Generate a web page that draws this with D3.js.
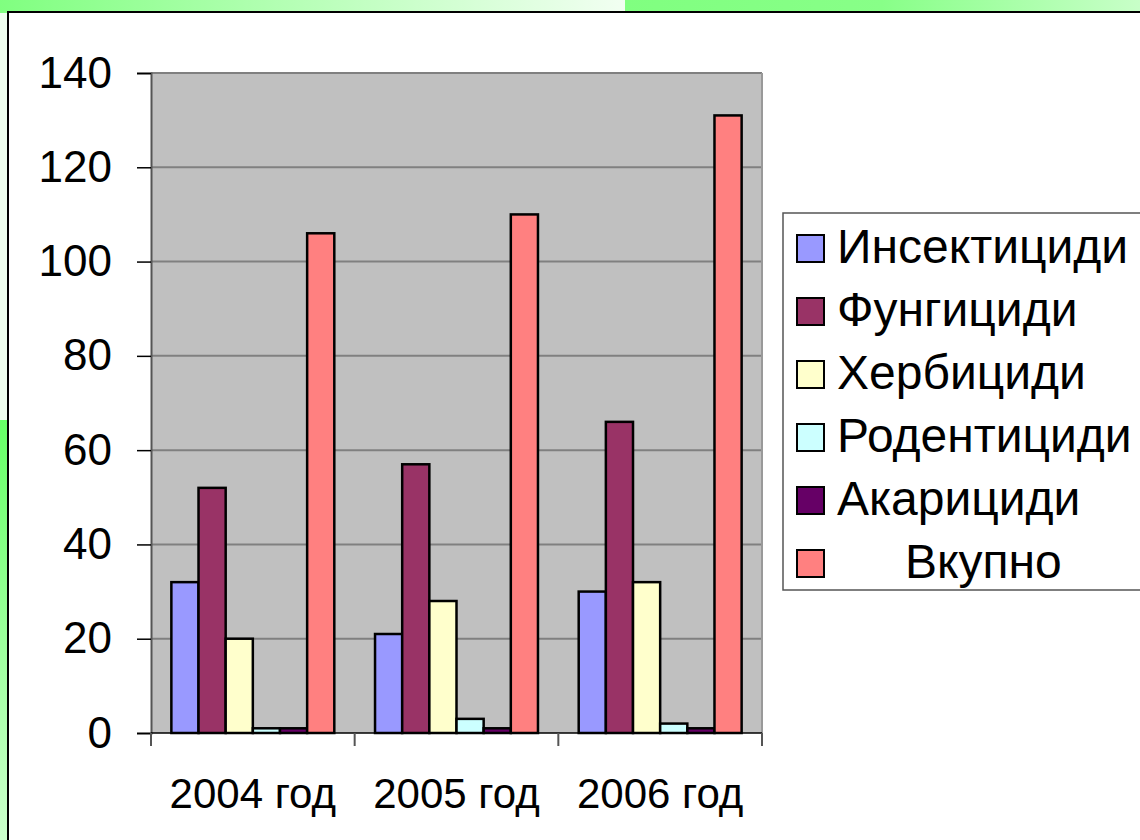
<!DOCTYPE html>
<html><head><meta charset="utf-8">
<script src="https://cdn.jsdelivr.net/npm/d3@7"></script>
<style>html,body{margin:0;padding:0;background:#fff;}svg{display:block;}</style>
</head><body>
<script>
const categories = ["2004 год", "2005 год", "2006 год"];
const seriesNames = ["Инсектициди", "Фунгициди", "Хербициди", "Родентициди", "Акарициди", "Вкупно"];
const insecticides = [32, 21, 30];
const fungicides = [52, 57, 66];
const herbicides = [20, 28, 32];
const rodenticides = [1, 3, 2];
const acaricides = [1, 1, 1];
const total = [106, 110, 131];
const yTicks = [0, 20, 40, 60, 80, 100, 120, 140];
const colors = ["#9999FF", "#993366", "#FFFFCC", "#CCFFFF", "#660066", "#FF8080"];
const seriesValues = [insecticides, fungicides, herbicides, rodenticides, acaricides, total];

const W = 1140, H = 840;
const FONT = "Liberation Sans, Arial, Helvetica, sans-serif";
const svg = d3.select("body").append("svg").attr("width", W).attr("height", H);
const defs = svg.append("defs");
const g1 = defs.append("linearGradient").attr("id", "gTopL").attr("x1", 0).attr("x2", 1).attr("y1", 0).attr("y2", 0);
g1.append("stop").attr("offset", 0).attr("stop-color", "#80ff80");
g1.append("stop").attr("offset", 1).attr("stop-color", "#f2fff2");
const g2 = defs.append("linearGradient").attr("id", "gTopR").attr("x1", 0).attr("x2", 1).attr("y1", 0).attr("y2", 0);
g2.append("stop").attr("offset", 0).attr("stop-color", "#80ff80");
g2.append("stop").attr("offset", 0.5).attr("stop-color", "#88ff88");
g2.append("stop").attr("offset", 1).attr("stop-color", "#c8ffc8");
const g3 = defs.append("linearGradient").attr("id", "gLeft").attr("x1", 0).attr("x2", 0).attr("y1", 0).attr("y2", 1);
g3.append("stop").attr("offset", 0).attr("stop-color", "#66ff66");
g3.append("stop").attr("offset", 1).attr("stop-color", "#ccffcc");

// background decoration
svg.append("rect").attr("x", 0).attr("y", 0).attr("width", W).attr("height", H).attr("fill", "#eefeee");
svg.append("rect").attr("x", 0).attr("y", 0).attr("width", 625).attr("height", 13).attr("fill", "url(#gTopL)");
svg.append("rect").attr("x", 625).attr("y", 0).attr("width", W - 625).attr("height", 13).attr("fill", "url(#gTopR)");
svg.append("rect").attr("x", 0).attr("y", 13).attr("width", 8).attr("height", 407).attr("fill", "#eefeee");
svg.append("rect").attr("x", 0).attr("y", 420).attr("width", 8).attr("height", 420).attr("fill", "url(#gLeft)");
// white panel
svg.append("rect").attr("x", 8).attr("y", 12).attr("width", W).attr("height", H)
  .attr("fill", "#fff").attr("stroke", "#000").attr("stroke-width", 2);

const plot = {x0: 151, x1: 762, y0: 73, y1: 733};
const x = d3.scaleBand().domain(categories).range([plot.x0, plot.x1]).paddingInner(0).paddingOuter(0);
const xs = d3.scaleBand().domain(d3.range(seriesNames.length)).range([0, x.bandwidth()]).paddingInner(0).paddingOuter(0.75);
const y = d3.scaleLinear().domain([0, 140]).range([plot.y1, plot.y0]);

svg.append("rect").attr("x", plot.x0).attr("y", plot.y0).attr("width", plot.x1 - plot.x0).attr("height", plot.y1 - plot.y0)
  .attr("fill", "#C0C0C0");
// gridlines
svg.append("g").selectAll("line").data(yTicks.filter(d => d > 0)).join("line")
  .attr("x1", plot.x0).attr("x2", plot.x1).attr("y1", d => y(d)).attr("y2", d => y(d))
  .attr("stroke", "#808080").attr("stroke-width", 2);
// right border of plot area
svg.append("line").attr("x1", plot.x1).attr("x2", plot.x1).attr("y1", plot.y0).attr("y2", plot.y1)
  .attr("stroke", "#999").attr("stroke-width", 2);

// bars
const bars = svg.append("g");
seriesValues.forEach((vals, si) => {
  bars.selectAll(null).data(vals).join("rect")
    .attr("x", (d, i) => x(categories[i]) + xs(si))
    .attr("y", d => y(d))
    .attr("width", xs.bandwidth())
    .attr("height", d => y(0) - y(d))
    .attr("fill", colors[si]).attr("stroke", "#000").attr("stroke-width", 2.5);
});

// y axis
const yAxis = d3.axisLeft(y).tickValues(yTicks).tickSize(14).tickPadding(25);
const ya = svg.append("g").attr("transform", `translate(${plot.x0},0)`).call(yAxis);
ya.select(".domain").attr("stroke", "#555").attr("stroke-width", 2);
ya.selectAll(".tick line").attr("stroke", "#000").attr("stroke-width", 1.5);
ya.selectAll("text").attr("font-family", FONT).attr("font-size", 44).attr("fill", "#000");

// x axis
svg.append("line").attr("x1", plot.x0).attr("x2", plot.x1).attr("y1", plot.y1).attr("y2", plot.y1)
  .attr("stroke", "#000").attr("stroke-width", 1.5);
const bounds = categories.map(c => x(c)).concat([plot.x1]);
svg.append("g").selectAll("line").data(bounds).join("line")
  .attr("x1", d => d).attr("x2", d => d).attr("y1", plot.y1).attr("y2", plot.y1 + 13)
  .attr("stroke", "#555").attr("stroke-width", 2);
svg.append("g").selectAll("text").data(categories).join("text")
  .attr("x", d => x(d) + x.bandwidth() / 2).attr("y", 808)
  .attr("text-anchor", "middle").attr("font-family", FONT)
  .attr("font-size", 42).attr("fill", "#000").text(d => d);

// legend
const lg = svg.append("g");
lg.append("rect").attr("x", 783).attr("y", 213).attr("width", 400).attr("height", 377)
  .attr("fill", "#fff").attr("stroke", "#555").attr("stroke-width", 1.5);
const ly = d3.scalePoint().domain(seriesNames).range([248, 563]);
lg.selectAll("rect.sw").data(seriesNames).join("rect").attr("class", "sw")
  .attr("x", 797).attr("y", d => ly(d) - 13).attr("width", 27).attr("height", 27)
  .attr("fill", (d, i) => colors[i]).attr("stroke", "#000").attr("stroke-width", 2);
lg.selectAll("text").data(seriesNames).join("text")
  .attr("x", (d, i) => i === 5 ? 905 : 837).attr("y", d => ly(d) + 15)
  .attr("font-family", FONT).attr("font-size", 48).attr("fill", "#000")
  .text(d => d);
</script>
</body></html>
